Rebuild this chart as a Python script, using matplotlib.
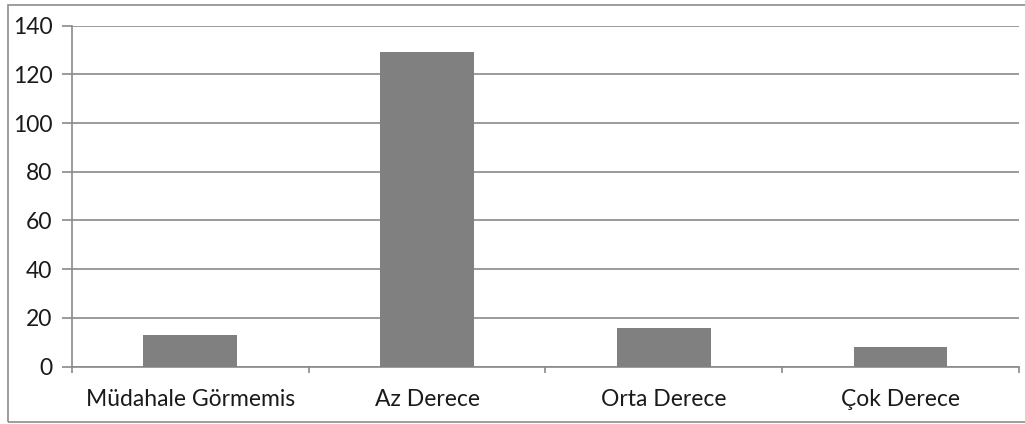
import matplotlib.pyplot as plt
import matplotlib.patches as mpatches
import numpy as np

categories = ["Müdahale Görmemis", "Az Derece", "Orta Derece", "Çok Derece"]
values = [13, 129, 16, 8]
y_ticks = [0, 20, 40, 60, 80, 100, 120, 140]

plt.rcParams['font.family'] = ['Lato', 'DejaVu Sans']

fig = plt.figure(figsize=(10.25, 4.24), dpi=100)
ax = fig.add_axes([0.0702, 0.1356, 0.9239, 0.8038])

# outer frame of the chart
frame = mpatches.Rectangle((0.0078, 0.0054), 1.0, 0.983, transform=fig.transFigure,
                           fill=False, edgecolor='#8c8c8c', linewidth=1.2, clip_on=False)
fig.patches.append(frame)

x = np.arange(len(categories))
ax.bar(x, values, width=0.396, color='#808080', zorder=3)

ax.set_xlim(-0.5, len(categories) - 0.5)
ax.set_ylim(0, 140)
ax.set_yticks(y_ticks)
ax.yaxis.grid(True, color='#8a8a8a', linewidth=1.2, zorder=0)

# categories labels in the middle, ticks on the boundaries
ax.set_xticks(np.arange(len(categories) + 1) - 0.5)
ax.set_xticklabels([])
ax.set_xticks(x, minor=True)
ax.set_xticklabels(categories, minor=True)
ax.tick_params(axis='x', which='major', direction='out', length=4, color='#8a8a8a', width=1.2)
ax.tick_params(axis='x', which='minor', length=0, pad=16, labelsize=16.5, labelcolor='#1a1a1a')
ax.tick_params(axis='y', direction='out', length=7, color='#8a8a8a', width=1.2,
               labelsize=16.5, labelcolor='#1a1a1a', pad=7)

for s in ['top', 'right']:
    ax.spines[s].set_visible(False)
for s in ['left', 'bottom']:
    ax.spines[s].set_color('#8a8a8a')
    ax.spines[s].set_linewidth(1.2)

fig.savefig('out.png', dpi=100)
